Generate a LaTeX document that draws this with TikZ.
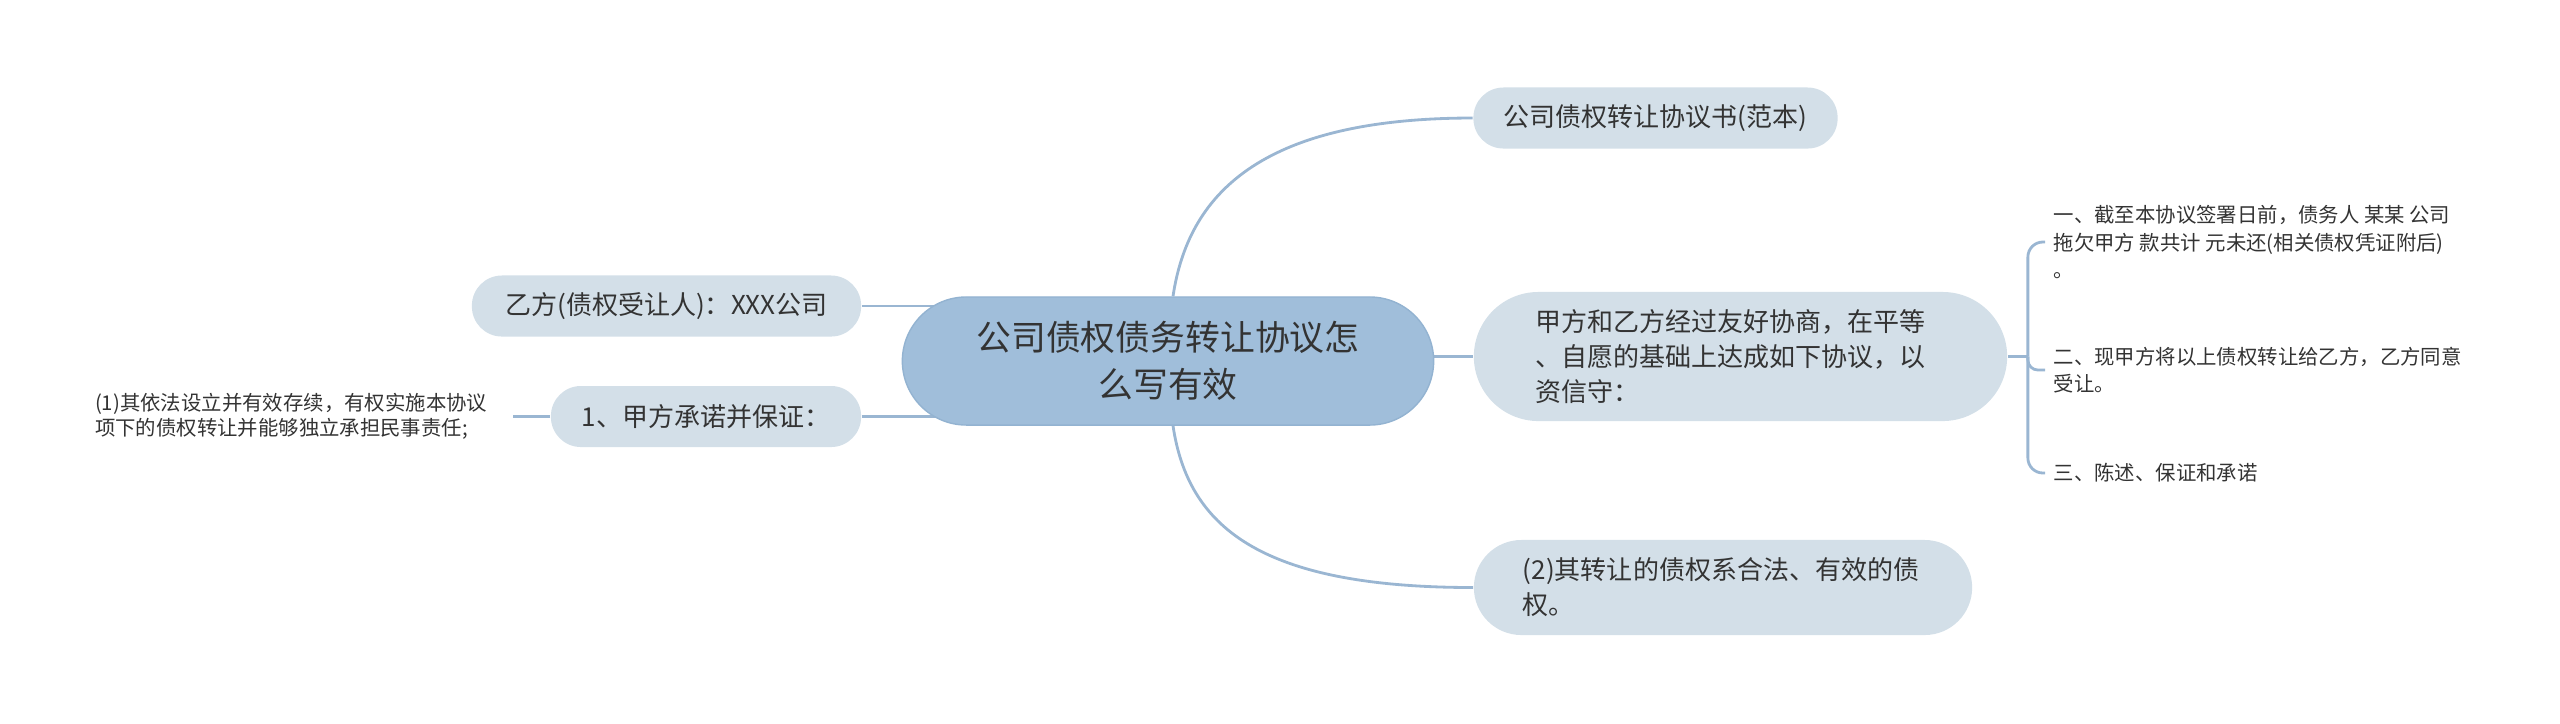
\documentclass[tikz,border=0pt]{standalone}
\usepackage{fontspec}
\setmainfont{Noto Sans CJK SC}
\usetikzlibrary{backgrounds}
\definecolor{linkblue}{HTML}{9AB6D2}
\definecolor{rootblue}{HTML}{A0BEDA}
\definecolor{rootedge}{HTML}{93B3D1}
\definecolor{topicgray}{HTML}{D3DFE8}
\definecolor{inkgray}{HTML}{333333}

\begin{document}
\begin{tikzpicture}[x=0.01cm, y=-0.01cm,
    rootbox/.style={fill=rootblue, draw=rootedge, line width=0.4pt, rounded corners=0.64cm,
      minimum width=5.31cm, minimum height=1.28cm, align=center, text=inkgray,
      font=\fontsize{9.9pt}{13.4pt}\selectfont},
    topicbox/.style={fill=topicgray, text=inkgray, rounded corners=0.3cm, inner sep=0pt,
      minimum height=0.61cm, font=\fontsize{7.4pt}{10pt}\selectfont},
    leaftext/.style={text=inkgray, align=left, anchor=west, inner xsep=0.08cm, inner ysep=0pt,
      font=\fontsize{5.8pt}{7.7pt}\selectfont},
    link/.style={draw=linkblue, line width=0.8pt}]
  \useasboundingbox (0,0) rectangle (2560,723);

  % centre
  \node[rootbox] (root) at (1168,361) {公司债权债务转让协议怎\\么写有效};

  % right side
  \node[topicbox, minimum width=3.64cm] (fanben) at (1655.5,118) {公司债权转让协议书(范本)};
  \node[topicbox, minimum width=5.33cm, minimum height=1.29cm, rounded corners=0.645cm,
    text width=4.1cm, align=left] (xieshang) at (1740.5,356.5)
    {甲方和乙方经过友好协商，在平等\\、自愿的基础上达成如下协议，以\\资信守：};
  \node[topicbox, minimum width=4.98cm, minimum height=0.95cm, rounded corners=0.475cm,
    text width=4.0cm, align=left] (hefa) at (1723,587.5)
    {(2)其转让的债权系合法、有效的债\\权。};
  \node[leaftext] (tiao1) at (2045,242)
    {一、截至本协议签署日前，债务人 某某 公司\\拖欠甲方 款共计 元未还(相关债权凭证附后)\\。};
  \node[leaftext] (tiao2) at (2045,370) {二、现甲方将以上债权转让给乙方，乙方同意\\受让。};
  \node[leaftext] (tiao3) at (2045,473) {三、陈述、保证和承诺};

  % left side
  \node[topicbox, minimum width=3.89cm] (yifang) at (666.5,306) {乙方(债权受让人)：XXX公司};
  \node[topicbox, minimum width=3.10cm] (jiafang) at (706,416.5) {1、甲方承诺并保证：};
  \node[leaftext, anchor=east, inner xsep=0.25cm, font=\fontsize{5.8pt}{7.2pt}\selectfont]
    (yifa) at (513,416.5)
    {(1)其依法设立并有效存续，有权实施本协议\\项下的债权转让并能够独立承担民事责任;};

  % connectors
  \begin{scope}[on background layer]
    \draw[link] ([xshift=0.05cm]root.north) .. controls +(15,-100) and +(-215,0) .. (fanben.west);
    \draw[link] ([xshift=0.05cm]root.south) .. controls +(15,100) and +(-215,0) .. (hefa.west);
    \draw[link] (xieshang.west -| root.east) -- (xieshang.west);
    \coordinate (fork) at ([xshift=0.2cm]xieshang.east);
    \draw[link] (xieshang.east) -- (fork);
    \draw[link, rounded corners=0.15cm] (fork) |- (tiao1.west);
    \draw[link, rounded corners=0.1cm] (fork) |- (tiao2.west);
    \draw[link, rounded corners=0.15cm] (fork) |- (tiao3.west);
    \draw[link] (yifang.east) -- ([xshift=0.5cm]yifang.east -| root.west);
    \draw[link] (jiafang.east) -- ([xshift=0.5cm]jiafang.east -| root.west);
    \draw[link] (jiafang.west) -- (yifa.east);
  \end{scope}
\end{tikzpicture}
\end{document}
